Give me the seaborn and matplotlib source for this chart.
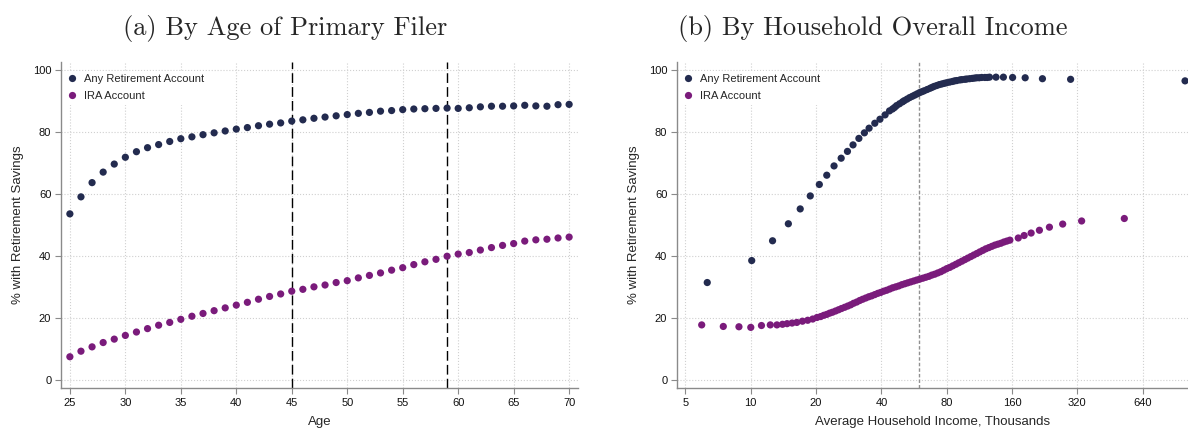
#!/usr/bin/env python3
import pandas as pd
import seaborn as sns
import matplotlib.pyplot as plt

# panel (a): share with retirement savings by age of primary filer
ages = list(range(25, 71))
any_by_age = [53.6, 59.1, 63.7, 67.1, 69.7, 71.9, 73.7, 75.0, 76.0, 77.0,
              77.9, 78.5, 79.2, 79.8, 80.4, 81.0, 81.5, 82.1, 82.6, 83.0,
              83.6, 84.0, 84.5, 84.9, 85.3, 85.7, 86.1, 86.4, 86.8, 87.0,
              87.3, 87.5, 87.6, 87.7, 87.8, 87.7, 87.9, 88.2, 88.4, 88.4,
              88.5, 88.7, 88.5, 88.4, 88.9, 89.0]
ira_by_age = [7.4, 9.2, 10.6, 12.0, 13.1, 14.3, 15.4, 16.5, 17.6, 18.5,
              19.5, 20.5, 21.4, 22.3, 23.2, 24.1, 25.0, 26.0, 26.9, 27.7,
              28.6, 29.2, 30.0, 30.6, 31.4, 32.0, 32.9, 33.7, 34.5, 35.4,
              36.2, 37.2, 38.1, 38.9, 39.9, 40.6, 41.1, 41.9, 42.7, 43.4,
              44.0, 44.8, 45.2, 45.4, 45.8, 46.1]

# panel (b): by household income (thousands)
any_income = [6.3, 10.1, 12.6, 14.9, 16.9, 18.8, 20.7, 22.4, 24.2, 26.1,
              27.9, 29.6, 31.5, 33.4, 35.1, 37.3, 39.4, 41.6, 43.6, 45,
              46, 47, 48.5, 50, 51, 52.5, 54, 55.5, 57, 58.5,
              60, 61.5, 63, 65, 67, 68.5, 70, 72, 74, 76,
              78, 80, 82.5, 85, 87, 89, 92, 94, 97, 99,
              102, 105, 107.5, 110, 113, 116, 120, 123, 126, 135,
              146, 161, 184, 221, 298, 1004]
any_share = [31.4, 38.5, 44.9, 50.4, 55.2, 59.4, 63.1, 66.1, 69.1, 71.6,
             73.8, 75.9, 78.0, 79.8, 81.3, 82.9, 84.2, 85.6, 86.9, 87.5,
             88.0, 88.6, 89.2, 89.8, 90.2, 90.7, 91.2, 91.6, 92.0, 92.4,
             92.8, 93.1, 93.4, 93.8, 94.2, 94.5, 94.8, 95.1, 95.4, 95.6,
             95.8, 96.0, 96.2, 96.4, 96.6, 96.7, 96.9, 97.0, 97.1, 97.2,
             97.3, 97.4, 97.5, 97.6, 97.6, 97.7, 97.7, 97.7, 97.8, 97.8,
             97.8, 97.7, 97.6, 97.3, 97.1, 96.6]
ira_income = [5.94, 7.47, 8.82, 10.0, 11.2, 12.3, 13.2, 14.0, 14.7, 15.5,
              16.3, 17.3, 18.3, 19.3, 20.2, 21, 21.7, 22.4, 23.1, 23.8,
              24.6, 25.4, 26.2, 27.1, 28.0, 28.9, 29.8, 30.8, 31.8, 32.8,
              33.9, 35.0, 36.1, 37.3, 38.5, 39.7, 41.0, 42.3, 43.7, 45.1,
              46.6, 48.1, 49.7, 51.3, 52.9, 54.6, 56.4, 58.2, 60.1, 62.1,
              64.1, 66.2, 68.3, 70.5, 72.8, 75.2, 77.6, 80.1, 82.7, 85.4,
              88.2, 91.0, 94.0, 97.0, 100.1, 103.4, 106.7, 110.2, 113.7, 117.4,
              121.2, 125.2, 129.2, 133.4, 137.7, 142.2, 146.8, 151.5, 156.4, 171,
              182, 196, 214, 238, 274, 335, 527]
ira_share = [17.7, 17.2, 17.1, 16.9, 17.5, 17.7, 17.7, 17.9, 18.1, 18.3,
             18.5, 18.9, 19.2, 19.6, 20.1, 20.4, 20.8, 21.1, 21.5, 21.8,
             22.2, 22.6, 23.0, 23.4, 23.8, 24.2, 24.7, 25.1, 25.6, 26.0,
             26.4, 26.8, 27.1, 27.5, 27.9, 28.2, 28.6, 28.9, 29.3, 29.7,
             30.0, 30.3, 30.7, 31.0, 31.3, 31.6, 31.9, 32.2, 32.5, 32.8,
             33.1, 33.4, 33.8, 34.1, 34.5, 34.9, 35.4, 35.9, 36.3, 36.8,
             37.3, 37.8, 38.3, 38.8, 39.3, 39.8, 40.3, 40.8, 41.3, 41.8,
             42.3, 42.7, 43.1, 43.5, 43.8, 44.1, 44.5, 44.8, 45.1, 45.8,
             46.6, 47.4, 48.3, 49.3, 50.3, 51.3, 52.1]

series = ['Any Retirement Account', 'IRA Account']
colors = {'Any Retirement Account': '#232b4f', 'IRA Account': '#7a1b7b'}
income_ticks = [5, 10, 20, 40, 80, 160, 320, 640]

df_age = pd.concat([
    pd.DataFrame({'x': ages, 'y': any_by_age, 'series': series[0]}),
    pd.DataFrame({'x': ages, 'y': ira_by_age, 'series': series[1]}),
])
df_inc = pd.concat([
    pd.DataFrame({'x': any_income, 'y': any_share, 'series': series[0]}),
    pd.DataFrame({'x': ira_income, 'y': ira_share, 'series': series[1]}),
])

sns.set_style("white")
plt.rcParams['font.family'] = ['Liberation Sans', 'DejaVu Sans']

fig = plt.figure(figsize=(11.88, 4.32), dpi=100)
ax1 = fig.add_axes([61 / 1188, 1 - 388 / 432, 517 / 1188, 326 / 432])
ax2 = fig.add_axes([677 / 1188, 1 - 388 / 432, 511 / 1188, 326 / 432])

for ax, df in [(ax1, df_age), (ax2, df_inc)]:
    sns.scatterplot(data=df, x='x', y='y', hue='series', palette=colors,
                    s=27, linewidth=0, ax=ax, zorder=3)
    ax.set_ylim(-2.7, 102.7)
    ax.set_yticks([0, 20, 40, 60, 80, 100])
    ax.grid(True, linestyle=':', color='#d0d0d0', linewidth=0.8)
    ax.set_axisbelow(True)
    for side in ['top', 'right']:
        ax.spines[side].set_visible(False)
    for side in ['left', 'bottom']:
        ax.spines[side].set_color('#8a8a8a')
        ax.spines[side].set_linewidth(1)
        ax.spines[side].set_zorder(6)
    ax.tick_params(axis='both', direction='out', length=4, width=0.8,
                   bottom=True, left=True,
                   color='#8a8a8a', labelsize=8, labelcolor='#111111', pad=3)
    ax.set_ylabel('% with Retirement Savings', fontsize=9.5, labelpad=6)
    leg = ax.legend(loc='upper left', bbox_to_anchor=(2 / 517, 1 - 9 / 326),
                    frameon=True, fontsize=8, borderaxespad=0,
                    handlelength=1.0, handletextpad=0.6, labelspacing=0.62,
                    markerscale=1.0, borderpad=0.3)
    leg.get_frame().set_facecolor('white')
    leg.get_frame().set_edgecolor('none')
    leg.get_frame().set_alpha(1)
    leg.set_zorder(5)

# left panel
ax1.set_xlim(24.2, 70.8)
ax1.set_xticks(range(25, 71, 5))
ax1.axvline(45, color='black', linestyle=(0, (7, 3)), linewidth=1, zorder=2)
ax1.axvline(59, color='black', linestyle=(0, (7, 3)), linewidth=1, zorder=2)
ax1.set_xlabel('Age', fontsize=9.5, labelpad=6)

# right panel
ax2.set_xscale('log', base=2)
ax2.set_xlim(4.57, 1036)
ax2.set_xticks(income_ticks)
ax2.set_xticklabels([str(t) for t in income_ticks])
ax2.minorticks_off()
ax2.axvline(59.4, color='#909090', linestyle=(0, (2.5, 1.5)), linewidth=1, zorder=2)
ax2.set_xlabel('Average Household Income, Thousands', fontsize=9.5, labelpad=6)

fig.text(285 / 1188, 1 - 29 / 432, '(a) By Age of Primary Filer', family='cmr10',
         fontsize=19, ha='center', va='center')
fig.text(873 / 1188, 1 - 29 / 432, '(b) By Household Overall Income', family='cmr10',
         fontsize=19, ha='center', va='center')

plt.savefig('out.png', dpi=100)
